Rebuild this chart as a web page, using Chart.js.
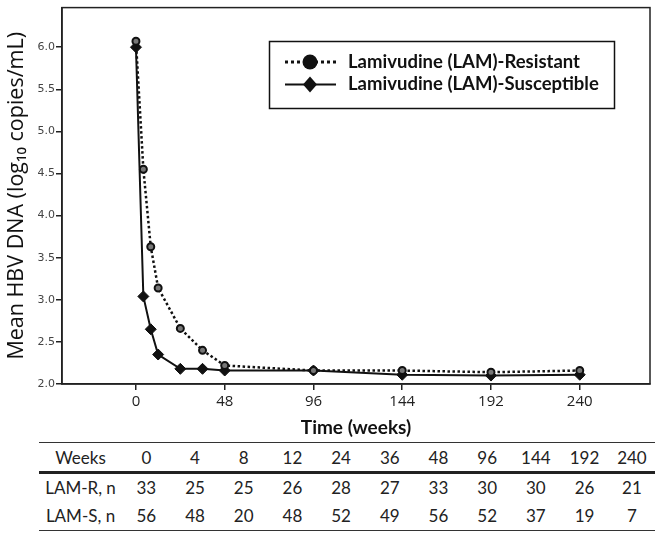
<!DOCTYPE html>
<html>
<head>
<meta charset="utf-8">
<script src="https://cdn.jsdelivr.net/npm/chart.js@4/dist/chart.umd.min.js"></script>
<style>
  body { margin: 0; background: #fff; }
  #wrap { position: relative; width: 660px; height: 533px; }
  #chart-box { position: absolute; left: 0; top: 0; width: 660px; height: 440px; }
  #n-table {
    position: absolute; left: 39px; top: 442px; width: 616px;
    border-collapse: collapse; table-layout: fixed;
    font-family: Lato, sans-serif; font-size: 17px; color: #222;
  }
  #n-table td { text-align: center; padding: 0; }
  #n-table tr.head td { height: 28px; }
  #n-table tr.head { border-top: 1.5px solid #333; border-bottom: 3px solid #222; }
  #n-table tr.r1 td { height: 27px; }
  #n-table tr.r2 td { height: 29px; }
  #n-table tr.r2 { border-bottom: 1.5px solid #333; }
</style>
</head>
<body>
<div id="wrap">
  <div id="chart-box"><canvas id="hbv-chart"></canvas></div>
  <table id="n-table">
    <colgroup id="cols"></colgroup>
    <tbody id="n-body"></tbody>
  </table>
</div>
<script>
const weeks = [0, 4, 8, 12, 24, 36, 48, 96, 144, 192, 240];
const lamR = [6.07, 4.55, 3.63, 3.14, 2.66, 2.40, 2.22, 2.16, 2.16, 2.14, 2.16];
const lamS = [6.00, 3.04, 2.65, 2.35, 2.18, 2.18, 2.16, 2.16, 2.11, 2.10, 2.11];
const xTicks = [0, 48, 96, 144, 192, 240];
const yTicks = [2.0, 2.5, 3.0, 3.5, 4.0, 4.5, 5.0, 5.5, 6.0];
const nR = [33, 25, 25, 26, 28, 27, 33, 30, 30, 26, 21];
const nS = [56, 48, 20, 48, 52, 49, 56, 52, 37, 19, 7];

// patient count table under the chart
const cols = document.getElementById('cols');
cols.innerHTML = '<col style="width:83px">' +
  weeks.map((w, i) => '<col style="width:' + (i === weeks.length - 1 ? 46 : 48.7) + 'px">').join('');
const row = (cls, label, vals) =>
  '<tr class="' + cls + '"><td>' + label + '</td>' + vals.map(v => '<td>' + v + '</td>').join('') + '</tr>';
document.getElementById('n-body').innerHTML =
  row('head', 'Weeks', weeks) + row('r1', 'LAM-R, n', nR) + row('r2', 'LAM-S, n', nS);

const frame = {
  id: 'frame',
  beforeDatasetsDraw(chart) {
    const a = chart.chartArea, ctx = chart.ctx;
    ctx.save();
    ctx.strokeStyle = '#222';
    ctx.lineWidth = 1.5;
    ctx.strokeRect(a.left, a.top, a.right - a.left, a.bottom - a.top);
    ctx.restore();
  }
};

const boxLegend = {
  id: 'boxLegend',
  afterDraw(chart) {
    const ctx = chart.ctx;
    ctx.save();
    ctx.fillStyle = '#fff';
    ctx.fillRect(269, 41, 345, 67);
    ctx.strokeStyle = '#111';
    ctx.lineWidth = 1.5;
    ctx.strokeRect(269.5, 41.5, 345, 67);
    chart.data.datasets.forEach((ds, i) => {
      const y = 62 + i * 22.5;
      ctx.strokeStyle = '#111';
      ctx.lineWidth = i === 0 ? 3 : 2;
      ctx.setLineDash(i === 0 ? [3, 3] : []);
      ctx.beginPath();
      ctx.moveTo(285, y);
      ctx.lineTo(336, y);
      ctx.stroke();
      ctx.setLineDash([]);
      ctx.fillStyle = '#111';
      ctx.beginPath();
      if (ds.pointStyle === 'rectRot') {
        ctx.moveTo(310, y - 8); ctx.lineTo(317, y); ctx.lineTo(310, y + 8); ctx.lineTo(303, y);
      } else {
        ctx.arc(310, y, 7.5, 0, Math.PI * 2);
      }
      ctx.fill();
      ctx.font = 'bold 18.5px Lato';
      ctx.textBaseline = 'middle';
      ctx.textAlign = 'left';
      ctx.fillText(ds.label, 348, y);
    });
    ctx.restore();
  }
};

new Chart(document.getElementById('hbv-chart'), {
  type: 'line',
  data: {
    datasets: [{
      label: 'Lamivudine (LAM)-Resistant',
      data: weeks.map((w, i) => ({ x: w, y: lamR[i] })),
      borderColor: '#111',
      borderWidth: 2.5,
      borderDash: [2.5, 2.5],
      pointStyle: 'circle',
      pointRadius: 3.5,
      pointBackgroundColor: '#777',
      pointBorderColor: '#111',
      pointBorderWidth: 2,
      tension: 0
    }, {
      label: 'Lamivudine (LAM)-Susceptible',
      data: weeks.map((w, i) => ({ x: w, y: lamS[i] })),
      borderColor: '#111',
      borderWidth: 2,
      pointStyle: 'rectRot',
      pointRadius: 5.5,
      pointBackgroundColor: '#111',
      pointBorderColor: '#111',
      pointBorderWidth: 1,
      tension: 0
    }]
  },
  options: {
    responsive: true,
    maintainAspectRatio: false,
    animation: false,
    layout: { padding: { top: 2, right: 10, left: 0, bottom: 0 } },
    plugins: {
      legend: { display: false },
      tooltip: { enabled: false }
    },
    scales: {
      x: {
        type: 'linear',
        min: -40,
        max: 278,
        afterFit: s => { s.height = 56; },
        afterBuildTicks: s => { s.ticks = xTicks.map(v => ({ value: v })); },
        grid: { drawOnChartArea: false, drawTicks: true, tickLength: 6, color: '#222', lineWidth: 1.5 },
        border: { display: true, color: '#222', width: 1.5 },
        ticks: { padding: 3, color: '#222', font: { family: 'Open Sans', size: 15 } },
        title: {
          display: true,
          text: 'Time (weeks)',
          color: '#111',
          font: { family: 'Lato', size: 19, weight: 'bold' },
          padding: { top: 0, bottom: 1 }
        }
      },
      y: {
        min: 2.0,
        max: 6.47,
        afterFit: s => { s.width = 62; },
        afterBuildTicks: s => { s.ticks = yTicks.map(v => ({ value: v })); },
        grid: { drawOnChartArea: false, drawTicks: true, tickLength: 6, color: '#222', lineWidth: 1.5 },
        border: { display: true, color: '#222', width: 1.5 },
        ticks: {
          padding: 1,
          color: '#444',
          font: { family: 'DejaVu Sans', size: 11 },
          callback: v => v.toFixed(1)
        },
        title: {
          display: true,
          text: 'Mean HBV DNA (log₁₀ copies/mL)',
          color: '#111',
          font: { family: 'Open Sans', size: 21.5 },
          padding: { top: 4, bottom: 0 }
        }
      }
    }
  },
  plugins: [frame, boxLegend]
});
</script>
</body>
</html>
